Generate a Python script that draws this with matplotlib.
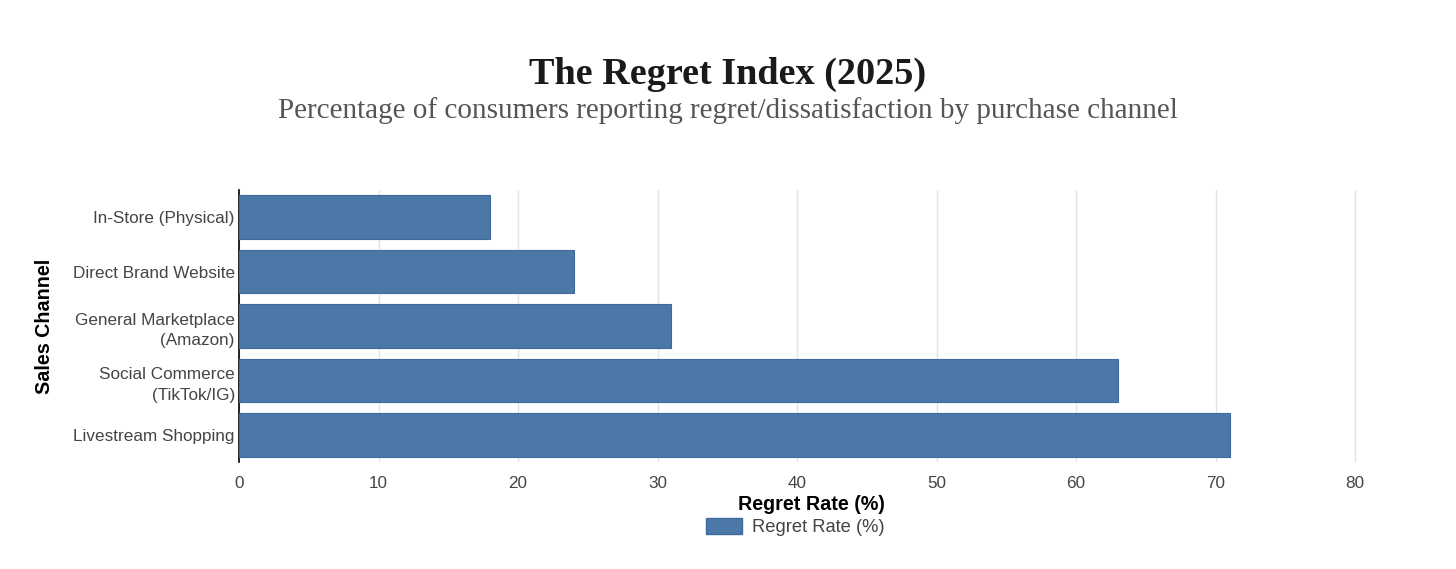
import matplotlib.pyplot as plt
from matplotlib.patches import Patch
import numpy as np

# data
channels = ["In-Store (Physical)", "Direct Brand Website",
            "General Marketplace\n(Amazon)", "Social Commerce\n(TikTok/IG)",
            "Livestream Shopping"]
regret_rate = [18, 24, 31, 63, 71]
x_ticks = [0, 10, 20, 30, 40, 50, 60, 70, 80]

bar_color = "#4c78a8"
sans = ["Liberation Sans", "DejaVu Sans"]
serif = ["Liberation Serif", "DejaVu Serif"]

fig = plt.figure(figsize=(14.56, 5.69), dpi=100)
ax = fig.add_axes([239 / 1456, 1 - 462 / 569, (1383 - 239) / 1456, (462 - 190) / 569])

y_pos = np.arange(len(channels))
ax.barh(y_pos, regret_rate, height=0.8, color=bar_color,
        edgecolor="#3f6a9c", linewidth=0.8, zorder=3)
ax.set_yticks(y_pos)
ax.set_yticklabels(channels, fontsize=12.3, color="#444444", family=sans,
                   linespacing=1.5)
ax.set_ylim(len(channels) - 0.5, -0.5)

ax.set_xlim(0, 82)
ax.set_xticks(x_ticks)
ax.set_xticklabels([str(t) for t in x_ticks], fontsize=12.3, color="#444444", family=sans)
ax.grid(axis="x", color="#e3e3e3", linewidth=1, zorder=0)
ax.tick_params(axis="y", length=0, pad=3)
ax.tick_params(axis="x", length=0, pad=10)

for s in ["top", "right", "bottom"]:
    ax.spines[s].set_visible(False)
ax.spines["left"].set_color("black")
ax.spines["left"].set_linewidth(1.2)

ax.set_xlabel("Regret Rate (%)", fontsize=14.2, fontweight="bold", family=sans, labelpad=3)
ax.set_ylabel("Sales Channel", fontsize=14.2, fontweight="bold", family=sans)
ax.yaxis.set_label_coords(-0.162, 0.5)

fig.text(0.5, 1 - 74 / 569, "The Regret Index (2025)", ha="center", va="center",
         fontsize=27.5, fontweight="bold", color="#1a1a1a", family=serif)
fig.text(0.5, 1 - 111 / 569,
         "Percentage of consumers reporting regret/dissatisfaction by purchase channel",
         ha="center", va="center", fontsize=21, color="#555555", family=serif)

handles = [Patch(facecolor=bar_color, edgecolor="#3f6a9c", label="Regret Rate (%)")]
leg = fig.legend(handles=handles, loc="center", bbox_to_anchor=(795 / 1456, 1 - 527 / 569),
                 frameon=False, prop={"family": sans, "size": 13.2},
                 handlelength=2.0, handleheight=1.0, handletextpad=0.5)
for t in leg.get_texts():
    t.set_color("#444444")

fig.savefig("out.png", dpi=100)
